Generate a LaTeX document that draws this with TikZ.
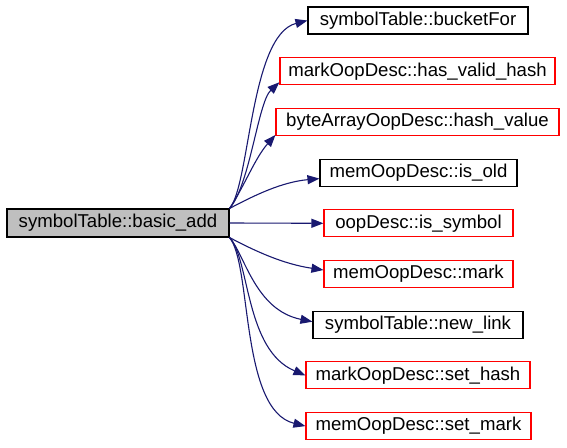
\documentclass[tikz,border=0pt]{standalone}
\usepackage{fontspec}
\setmainfont{Liberation Sans}
\usetikzlibrary{arrows.meta,calc}
\definecolor{edgeblue}{HTML}{191970}
\definecolor{boxred}{HTML}{FF0000}
\definecolor{maingray}{HTML}{BFBFBF}
\begin{document}
\begin{tikzpicture}[x=1pt,y=-1pt,
  fn/.style={draw, rectangle, inner sep=0pt, minimum height=27pt,
    font=\fontsize{18.6}{20}\selectfont, line width=1.1pt, fill=white},
  blackbox/.style={fn, draw=black},
  redbox/.style={fn, draw=boxred},
  edge/.style={draw=edgeblue, line width=1.1pt, -{Triangle[length=12pt,width=9pt]}}]
\useasboundingbox (0,0) rectangle (567,447);
\node[fn, draw=black, fill=maingray, minimum width=222pt, minimum height=28pt] (main) at (118,223) {symbolTable::basic\_add};
\node[blackbox, minimum width=220pt] (n1) at (418,20.5) {symbolTable::bucketFor};
\node[redbox, minimum width=275pt] (n2) at (417.5,71.2) {markOopDesc::has\_valid\_hash};
\node[redbox, minimum width=283pt] (n3) at (417.5,121.9) {byteArrayOopDesc::hash\_value};
\node[blackbox, minimum width=197pt] (n4) at (418.5,172.6) {memOopDesc::is\_old};
\node[redbox, minimum width=189pt] (n5) at (418.5,223.3) {oopDesc::is\_symbol};
\node[redbox, minimum width=189pt] (n6) at (418.5,274) {memOopDesc::mark};
\node[blackbox, minimum width=210pt] (n7) at (418,324.7) {symbolTable::new\_link};
\node[redbox, minimum width=224pt] (n8) at (418,375.4) {markOopDesc::set\_hash};
\node[redbox, minimum width=225pt] (n9) at (418.5,426.1) {memOopDesc::set\_mark};
\draw[edge] (main.north east) .. controls (250,185) and (250,35) .. (n1.west);
\draw[edge] (main.north east) .. controls (250,185) and (258,102) .. ($(n2.south west)+(0,-3)$);
\draw[edge] (main.north east) .. controls (245,185) and (255,158) .. ($(n3.south west)+(0,-1)$);
\draw[edge] (main.north east) .. controls (255,195) and (282,182) .. ($(n4.west)+(0,6)$);
\draw[edge] (main.east) -- (n5.west);
\draw[edge] (main.south east) .. controls (255,251) and (283,264) .. ($(n6.west)+(0,-4)$);
\draw[edge] (main.south east) .. controls (245,255) and (255,310) .. ($(n7.west)+(0,-3)$);
\draw[edge] (main.south east) .. controls (250,260) and (245,350) .. (n8.west);
\draw[edge] (main.south east) .. controls (252,265) and (240,410) .. (n9.west);
\end{tikzpicture}
\end{document}
